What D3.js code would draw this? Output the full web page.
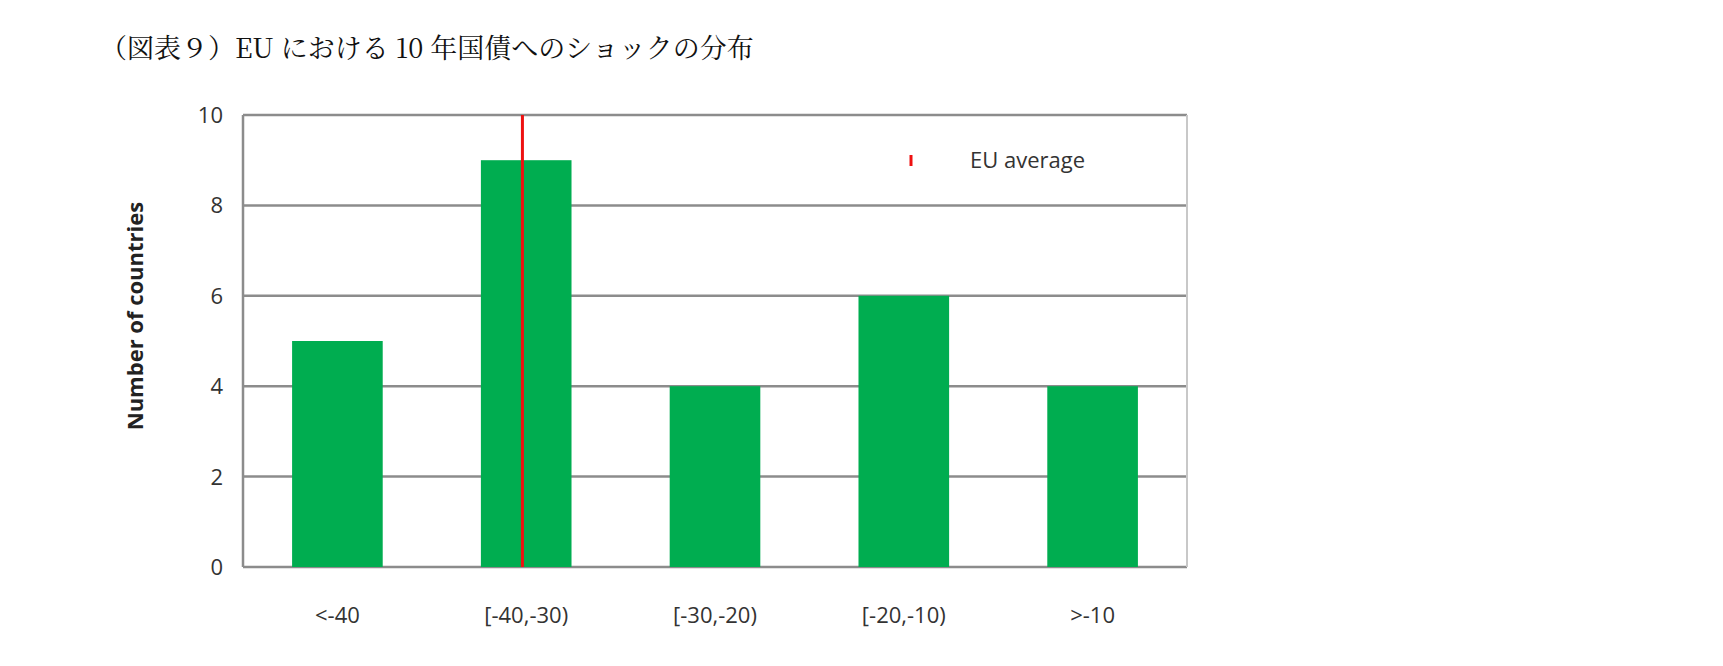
<!DOCTYPE html><html><head><meta charset="utf-8">
<script src="https://cdn.jsdelivr.net/npm/d3@7"></script>
<style>body{margin:0;background:#fff}</style></head><body>
<script>
const categories=["<-40","[-40,-30)","[-30,-20)","[-20,-10)",">-10"];
const counts=[5,9,4,6,4];
const yTicks=[0,2,4,6,8,10];
const euAverage=-35.2; // shock in bp, bands are 10 wide from -50 to 0
const W=1723,H=666,m={l:243,r:1187,t:115,b:567};
const svg=d3.select("body").append("svg").attr("width",W).attr("height",H);
svg.append("text").attr("x",100).attr("y",58).attr("font-family","'Noto Serif CJK JP','Noto Sans CJK JP',serif").attr("font-size",27).attr("fill","#111").text("（図表９）EU における 10 年国債へのショックの分布");
const x=d3.scaleBand().domain(categories).range([m.l,m.r]).paddingInner(0.52).paddingOuter(0.26);
const xl=d3.scaleLinear().domain([-50,0]).range([m.l,m.r]);
const y=d3.scaleLinear().domain([0,10]).range([m.b,m.t]);
svg.append("g").selectAll("line").data(yTicks).join("line").attr("x1",m.l).attr("x2",m.r).attr("y1",d=>y(d)).attr("y2",d=>y(d)).attr("stroke","#8c8c8c").attr("stroke-width",2.5);
svg.append("line").attr("x1",m.r).attr("x2",m.r).attr("y1",m.t).attr("y2",m.b).attr("stroke","#c8c8c8").attr("stroke-width",2);
svg.append("line").attr("x1",m.l).attr("x2",m.l).attr("y1",m.t).attr("y2",m.b).attr("stroke","#8c8c8c").attr("stroke-width",2.5);
svg.append("g").selectAll("rect").data(counts).join("rect").attr("x",(d,i)=>x(categories[i])).attr("width",x.bandwidth()).attr("y",d=>y(d)).attr("height",d=>m.b-y(d)).attr("fill","#00ad50");
svg.append("line").attr("x1",xl(euAverage)).attr("x2",xl(euAverage)).attr("y1",y(10)).attr("y2",y(0)).attr("stroke","#ee1111").attr("stroke-width",3);
const tf="'Open Sans',sans-serif";
svg.append("g").selectAll("text").data(yTicks).join("text").attr("x",m.l-20).attr("y",d=>y(d)+8).attr("text-anchor","end").attr("font-family",tf).attr("font-size",22).attr("fill","#333").text(d=>d);
svg.append("g").selectAll("text").data(categories).join("text").attr("x",d=>x(d)+x.bandwidth()/2).attr("y",623).attr("text-anchor","middle").attr("font-family",tf).attr("font-size",22).attr("fill","#333").text(d=>d);
svg.append("text").attr("transform","translate(143,316) rotate(-90)").attr("text-anchor","middle").attr("font-family",tf).attr("font-weight","bold").attr("font-size",22).attr("fill","#222").text("Number of countries");
svg.append("line").attr("x1",911).attr("x2",911).attr("y1",155).attr("y2",166).attr("stroke","#ee1111").attr("stroke-width",3);
svg.append("text").attr("x",970).attr("y",168).attr("font-family",tf).attr("font-size",22).attr("fill","#333").text("EU average");
</script></body></html>
